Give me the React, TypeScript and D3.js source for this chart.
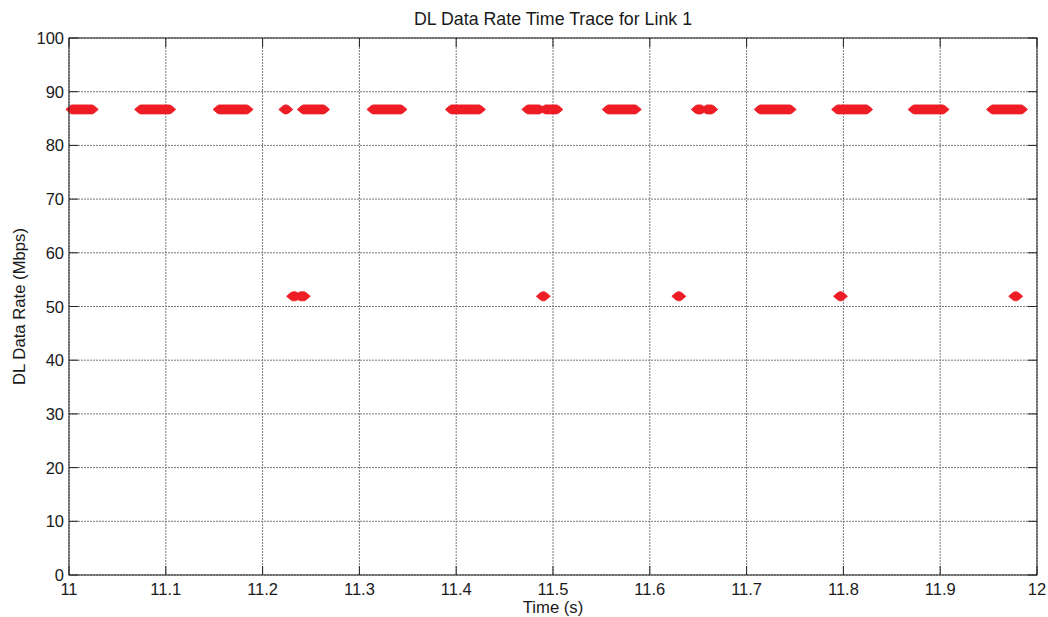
import React from "react";
import * as d3 from "d3";

// Runs of consecutive samples: [start time (s), end time (s)] at each rate level
const highRate = 86.7;
const highRuns: [number, number][] = [
  [11.004, 11.023],
  [11.075, 11.103],
  [11.156, 11.183],
  [11.224, 11.224],
  [11.243, 11.262],
  [11.315, 11.342],
  [11.396, 11.423],
  [11.475, 11.485],
  [11.493, 11.503],
  [11.558, 11.584],
  [11.650, 11.652],
  [11.660, 11.663],
  [11.715, 11.744],
  [11.795, 11.823],
  [11.874, 11.902],
  [11.955, 11.983],
];
const lowRate = 51.9;
const lowRuns: [number, number][] = [
  [11.232, 11.233],
  [11.240, 11.242],
  [11.490, 11.490],
  [11.630, 11.630],
  [11.797, 11.797],
  [11.978, 11.978],
];

const xTicks = [11, 11.1, 11.2, 11.3, 11.4, 11.5, 11.6, 11.7, 11.8, 11.9, 12];
const yTicks = [0, 10, 20, 30, 40, 50, 60, 70, 80, 90, 100];
const title = "DL Data Rate Time Trace for Link 1";
const xLabel = "Time (s)";
const yLabel = "DL Data Rate (Mbps)";

const W = 1048;
const H = 617;
const L = 69;
const R = 1037;
const T = 38;
const B = 575;
const RED = "#ee1c25";
const FONT = "'Liberation Sans', Arial, sans-serif";

function runPath(x0: number, x1: number, y: number): string {
  const h = 4.5;
  const tip = 7;
  const shoulder = 3;
  return [
    [x0 - tip, y],
    [x0 - shoulder, y - h + 1],
    [x0 - 1, y - h],
    [x1 + 1, y - h],
    [x1 + shoulder, y - h + 1],
    [x1 + tip, y],
    [x1 + shoulder, y + h - 1],
    [x1 + 1, y + h],
    [x0 - 1, y + h],
    [x0 - shoulder, y + h - 1],
  ]
    .map((p, i) => (i === 0 ? "M" : "L") + p[0].toFixed(2) + "," + p[1].toFixed(2))
    .join("") + "Z";
}

export default function App() {
  const x = d3.scaleLinear().domain([11, 12]).range([L, R]);
  const y = d3.scaleLinear().domain([0, 100]).range([B, T]);

  const runs = [
    ...highRuns.map((r) => ({ r, v: highRate })),
    ...lowRuns.map((r) => ({ r, v: lowRate })),
  ];

  return (
    <div style={{ position: "absolute", left: 0, top: 0 }}>
      <svg width={W} height={H} style={{ display: "block", background: "#fff" }} fontFamily={FONT}>
        <rect x={0} y={0} width={W} height={H} fill="#fff" />
        {/* grid */}
        {xTicks.map((t) => (
          <line key={"gx" + t} x1={x(t)} x2={x(t)} y1={T} y2={B} stroke="#7a7a7a" strokeWidth={1} strokeDasharray="2,1" />
        ))}
        {yTicks.map((t) => (
          <line key={"gy" + t} x1={L} x2={R} y1={y(t)} y2={y(t)} stroke="#7a7a7a" strokeWidth={1} strokeDasharray="2,1" />
        ))}
        {/* data */}
        {runs.map(({ r, v }, i) => (
          <path
            key={"run" + i}
            d={runPath(x(r[0]), x(r[1]), y(v))}
            fill={RED}
            stroke={RED}
            strokeWidth={0.8}
            strokeLinejoin="round"
          />
        ))}
        {/* ticks */}
        {xTicks.map((t) => (
          <g key={"tx" + t} stroke="#222" strokeWidth={1}>
            <line x1={x(t)} x2={x(t)} y1={B} y2={B - 9} />
            <line x1={x(t)} x2={x(t)} y1={T} y2={T + 9} />
          </g>
        ))}
        {yTicks.map((t) => (
          <g key={"ty" + t} stroke="#222" strokeWidth={1}>
            <line x1={L} x2={L + 9} y1={y(t)} y2={y(t)} />
            <line x1={R} x2={R - 9} y1={y(t)} y2={y(t)} />
          </g>
        ))}
        {/* box */}
        <rect x={L} y={T} width={R - L} height={B - T} fill="none" stroke="#222" strokeWidth={1} />
        {/* tick labels */}
        {xTicks.map((t) => (
          <text key={"lx" + t} x={x(t)} y={595} textAnchor="middle" fontSize={16.5} fill="#1a1a1a">
            {d3.format("")(t)}
          </text>
        ))}
        {yTicks.map((t) => (
          <text key={"ly" + t} x={L - 5} y={y(t) + 6} textAnchor="end" fontSize={16.5} fill="#1a1a1a">
            {t}
          </text>
        ))}
        <text x={(L + R) / 2} y={613} textAnchor="middle" fontSize={16.7} fill="#1a1a1a">
          {xLabel}
        </text>
        <text
          transform={`translate(${25},${(T + B) / 2}) rotate(-90)`}
          textAnchor="middle"
          fontSize={16.7}
          fill="#1a1a1a"
        >
          {yLabel}
        </text>
        <text x={(L + R) / 2} y={25} textAnchor="middle" fontSize={17.8} fill="#1a1a1a">
          {title}
        </text>
      </svg>
    </div>
  );
}
